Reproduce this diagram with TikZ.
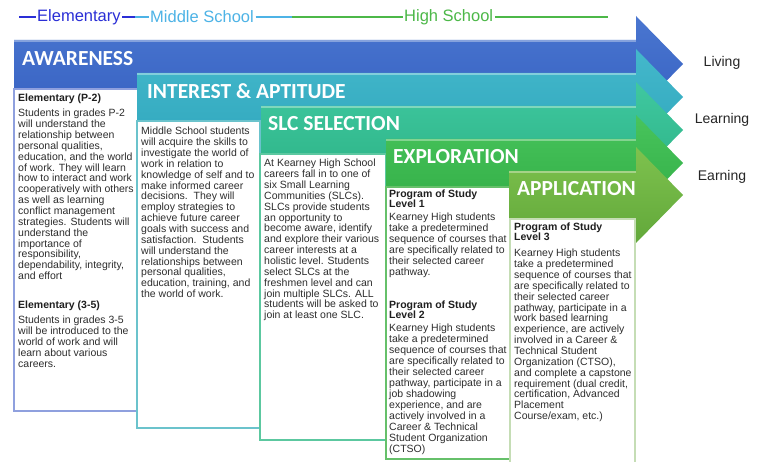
\documentclass[tikz,border=0pt]{standalone}
\usepackage{fontspec}
\setmainfont{Liberation Sans}
\newfontfamily\calfont{Carlito}
\definecolor{awA}{HTML}{4A76D0}\definecolor{awB}{HTML}{3762C2}
\definecolor{inA}{HTML}{44B8CB}\definecolor{inB}{HTML}{31A8BE}
\definecolor{slA}{HTML}{40C8A0}\definecolor{slB}{HTML}{2DB487}
\definecolor{exA}{HTML}{48C45C}\definecolor{exB}{HTML}{32AE46}
\definecolor{apA}{HTML}{7EC24E}\definecolor{apB}{HTML}{62A83A}
\definecolor{bx1}{HTML}{8FA0DE}\definecolor{bx2}{HTML}{6BC3CC}
\definecolor{bx3}{HTML}{5CC8A0}\definecolor{bx4}{HTML}{66C06A}
\definecolor{bx5}{HTML}{C5DDB5}
\definecolor{tlDark}{HTML}{2A2ED6}\definecolor{tlLight}{HTML}{4DB3E6}
\definecolor{tlGreen}{HTML}{4CB848}
\newcommand\kharrow[4]{%
  \shade[top color=#3, bottom color=#4]
    (#1,#2) -- (636,#2) -- (636,#2+24-48) -- (683,#2+24) -- (636,#2+24+48)
    -- (636,#2+48) -- (#1,#2+48) -- cycle;
  \draw[white, opacity=0.35, line width=1.5pt] (#1,#2+1.2) -- (636,#2+1.2);}
\begin{document}
\begin{tikzpicture}[x=1pt,y=-1pt,
  title/.style={anchor=west, inner sep=0pt, text=white, font=\calfont\bfseries\fontsize{21.5}{22}\selectfont},
  hdr/.style={anchor=north west, inner sep=0pt, align=left, text=black!88, font=\bfseries\fontsize{10.5}{10}\selectfont},
  bodytxt/.style={anchor=north west, inner sep=0pt, align=left, text=black!82, font=\fontsize{10.5}{10.85}\selectfont},
  boxline/.style={line width=1.3pt, fill=white},
  side/.style={anchor=center, inner sep=0pt, font=\fontsize{14}{16}\selectfont, text=black!85},
  tl/.style={anchor=west, inner sep=1.5pt, font=\fontsize{16.5}{18}\selectfont}
]
\useasboundingbox[fill=white] (0,0) rectangle (765,462);

% timeline
\coordinate (t0) at (19,17);
\node[tl, text=tlDark] (elem) at (35.5,17) {Elementary};
\coordinate (t1) at (135,17);
\node[tl, text=tlLight] (mid) at (148.5,17) {Middle School};
\coordinate (t2) at (292,17);
\node[tl, text=tlGreen] (high) at (402.5,17) {High School};
\coordinate (t3) at (608,17);
\draw[tlDark, line width=2pt] (t0) -- (elem.west);
\draw[tlDark, line width=2pt] (elem.east) -- (t1);
\draw[tlLight, line width=1.2pt] (t1) -- (mid.west);
\draw[tlLight, line width=1.2pt] (mid.east) -- (t2);
\draw[tlGreen, line width=1.2pt] (t2) -- (high.west);
\draw[tlGreen, line width=1.2pt] (high.east) -- (t3);

% side labels
\node[side] (living) at (722,63) {Living};
\node[side] (learning) at (722,120) {Learning};
\node[side] (earning) at (722,177) {Earning};

% ---- Awareness
\kharrow{14}{40}{awA}{awB}
\node[title] (aw) at (22,59) {AWARENESS};
\draw[boxline, draw=bx1] (14,89) rectangle (138,411);
\node[hdr] (h1) at (18,94) {Elementary (P-2)};
\node[bodytxt] (b1) at (18,109) {Students in grades P-2\\will understand the\\relationship between\\personal qualities,\\education, and the world\\of work. They will learn\\how to interact and work\\cooperatively with others\\as well as learning\\conflict management\\strategies. Students will\\understand the\\importance of\\responsibility,\\dependability, integrity,\\and effort};
\node[hdr] (h2) at (18,301) {Elementary (3-5)};
\node[bodytxt] (b2) at (18,316) {Students in grades 3-5\\will be introduced to the\\world of work and will\\learn about various\\careers.};

% ---- Interest
\kharrow{137}{73}{inA}{inB}
\node[title] (ia) at (147,91) {INTEREST \& APTITUDE};
\draw[boxline, draw=bx2] (137,121) rectangle (260,428);
\node[bodytxt] (b3) at (141,127) {Middle School students\\will acquire the skills to\\investigate the world of\\work in relation to\\knowledge of self and to\\make informed career\\decisions.\ \ They will\\employ strategies to\\achieve future career\\goals with success and\\satisfaction.\ \ Students\\will understand the\\relationships between\\personal qualities,\\education, training, and\\the world of work.};

% ---- SLC
\kharrow{261}{106}{slA}{slB}
\node[title] (slc) at (268,124) {SLC SELECTION};
\draw[boxline, draw=bx3] (260,154) rectangle (386,440);
\node[bodytxt] (b4) at (264,159) {At Kearney High School\\careers fall in to one of\\six Small Learning\\Communities (SLCs).\\SLCs provide students\\an opportunity to\\become aware, identify\\and explore their various\\career interests at a\\holistic level. Students\\select SLCs at the\\freshmen level and can\\join multiple SLCs. ALL\\students will be asked to\\join at least one SLC.};

% ---- Exploration
\kharrow{386}{139}{exA}{exB}
\node[title] (ex) at (393,157) {EXPLORATION};
\draw[boxline, draw=bx4] (386,187) rectangle (510,459);
\node[hdr] (h3) at (389,190) {Program of Study\\Level 1};
\node[bodytxt] (b5) at (389,213) {Kearney High students\\take a predetermined\\sequence of courses that\\are specifically related to\\their selected career\\pathway.};
\node[hdr] (h4) at (389,301) {Program of Study\\Level 2};
\node[bodytxt, font=\fontsize{10.5}{11}\selectfont] (b6) at (389,324) {Kearney High students\\take a predetermined\\sequence of courses that\\are specifically related to\\their selected career\\pathway, participate in a\\job shadowing\\experience, and are\\actively involved in a\\Career \& Technical\\Student Organization\\(CTSO)};

% ---- Application
\kharrow{509}{171}{apA}{apB}
\node[title] (ap) at (517,189) {APPLICATION};
\fill[white] (510,219) rectangle (635,462);
\draw[line width=1.3pt, draw=bx5] (510,463) -- (510,219) -- (635,219) -- (635,463);
\node[hdr] (h5) at (514,223) {Program of Study\\Level 3};
\node[bodytxt] (b7) at (514,249) {Kearney High students\\take a predetermined\\sequence of courses that\\are specifically related to\\their selected career\\pathway, participate in a\\work based learning\\experience, are actively\\involved in a Career \&\\Technical Student\\Organization (CTSO),\\and complete a capstone\\requirement (dual credit,\\certification, Advanced\\Placement\\Course/exam, etc.)};
\end{tikzpicture}
\end{document}
